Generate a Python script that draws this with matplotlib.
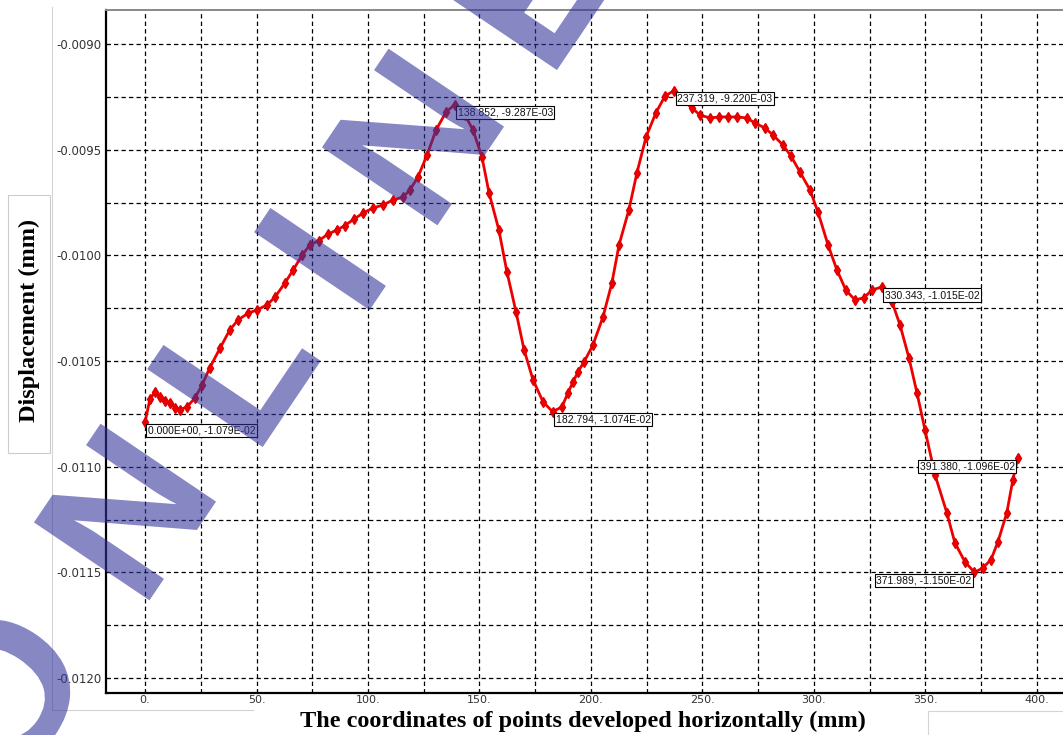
import numpy as np
import matplotlib
matplotlib.use('Agg')
import matplotlib.pyplot as plt
from matplotlib.patches import Rectangle, PathPatch
from matplotlib.lines import Line2D
from matplotlib.ticker import MultipleLocator, FixedLocator
from matplotlib.textpath import TextPath
from matplotlib.font_manager import FontProperties
from matplotlib.transforms import Affine2D, IdentityTransform

# values
x_mm = [0.0, 2.2, 4.5, 6.7, 9.0, 11.2, 13.5, 15.7, 18.8, 22.4, 25.6, 29.0,
        33.6, 38.0, 41.7, 46.2, 50.2, 54.7, 58.3, 62.8, 66.4, 70.4, 74.0,
        78.0, 82.0, 86.0, 89.5, 93.5, 97.8, 102.2, 106.7, 111.2, 115.7,
        118.8, 122.4, 126.5, 130.5, 135.0, 138.852, 143.5, 147.1, 151.1,
        154.3, 158.7, 162.3, 166.4, 170.0, 174.0, 178.5, 182.794, 187.0,
        189.7, 191.9, 194.2, 196.9, 200.9, 205.4, 209.4, 212.6, 217.0,
        220.6, 224.7, 229.1, 233.2, 237.319, 241.2, 245.3, 248.9, 253.4,
        257.4, 261.4, 265.5, 270.0, 273.5, 278.0, 281.6, 286.1, 289.7,
        293.7, 298.2, 301.8, 306.3, 310.3, 314.3, 318.4, 322.4, 326.0,
        330.343, 335.0, 338.6, 342.6, 346.2, 349.8, 354.3, 359.6, 363.2,
        367.7, 371.989, 375.8, 379.4, 382.5, 386.5, 389.2, 391.38]
disp = [-0.01079, -0.01068, -0.010646, -0.01067, -0.01069, -0.010698,
        -0.01072, -0.01073, -0.010717, -0.010675, -0.010613, -0.010533,
        -0.01044, -0.010353, -0.010306, -0.010274, -0.010258, -0.010235,
        -0.010197, -0.01013, -0.01007, -0.01000, -0.00995, -0.00993,
        -0.00990, -0.00988, -0.00986, -0.00983, -0.00980, -0.009776,
        -0.009762, -0.009738, -0.009724, -0.009691, -0.009629, -0.009525,
        -0.009407, -0.009322, -0.009287, -0.009336, -0.009407, -0.009534,
        -0.009705, -0.00988, -0.010078, -0.010268, -0.010447, -0.010589,
        -0.010693, -0.01074, -0.010717, -0.01065, -0.0106, -0.010551,
        -0.010504, -0.010424, -0.010291, -0.01013, -0.00995, -0.009785,
        -0.00961, -0.00944, -0.009326, -0.009246, -0.00922, -0.009265,
        -0.009303, -0.009336, -0.00935, -0.009345, -0.009345, -0.009345,
        -0.00935, -0.009374, -0.009397, -0.00943, -0.009478, -0.00953,
        -0.009605, -0.00969, -0.009795, -0.00995, -0.010069, -0.010164,
        -0.010211, -0.010201, -0.010164, -0.01015, -0.01022, -0.010329,
        -0.010485, -0.01065, -0.010826, -0.011039, -0.011218, -0.01136,
        -0.01145, -0.0115, -0.011479, -0.01144, -0.011356, -0.011218,
        -0.011063, -0.01096]

# labelled points and which side the box sits on
lab_x = [0.0, 138.852, 182.794, 237.319, 330.343, 371.989, 391.38]
lab_y = [-0.01079, -0.009287, -0.01074, -0.00922, -0.01015, -0.0115, -0.01096]
lab_txt = ['0.000E+00, -1.079E-02', '138.852, -9.287E-03',
           '182.794, -1.074E-02', '237.319, -9.220E-03',
           '330.343, -1.015E-02', '371.989, -1.150E-02',
           '391.380, -1.096E-02']
lab_side = ['right', 'right', 'right', 'right', 'right', 'left', 'left']

x_ticks = [0, 50, 100, 150, 200, 250, 300, 350, 400]
x_ticklabels = ['0.', '50.', '100.', '150.', '200.', '250.', '300.', '350.', '400.']
y_ticks = [-0.0120, -0.0115, -0.0110, -0.0105, -0.0100, -0.0095, -0.0090]
y_ticklabels = ['-0.0120', '-0.0115', '-0.0110', '-0.0105', '-0.0100',
                '-0.0095', '-0.0090']

# watermark letters
wm_letters = ['O', 'N', 'L', 'I', 'N', 'E']

W, H = 1063, 735
fig = plt.figure(figsize=(W / 100, H / 100), dpi=100)
ax = fig.add_axes([106 / W, 1 - 693 / H, 1 - 106 / W, (693 - 10) / H])

ax.plot(x_mm, disp, color='#ee0000', lw=2.0, marker='d', ms=5.5,
        mfc='#ee0000', mec='#dd0000', zorder=3)

ax.set_xlim(-17.5, 411.7)
ax.set_ylim(-0.012071, -0.008839)

ax.xaxis.set_major_locator(FixedLocator(x_ticks))
ax.set_xticklabels(x_ticklabels)
ax.xaxis.set_minor_locator(MultipleLocator(25))
ax.yaxis.set_major_locator(FixedLocator(y_ticks))
ax.set_yticklabels(y_ticklabels)
ax.yaxis.set_minor_locator(MultipleLocator(0.00025))

ax.grid(which='both', color='black', lw=0.9, linestyle=(0, (3.5, 2.5)))
ax.set_axisbelow(True)
ax.tick_params(which='both', direction='in', length=3, color='black',
               labelsize=8.5, labelcolor='#333333', pad=3)
ax.tick_params(axis='x', pad=1.5, labelsize=8)

ax.spines['left'].set_linewidth(1.6)
ax.spines['bottom'].set_linewidth(1.6)
ax.spines['top'].set_color('#888888')
ax.spines['top'].set_linewidth(1.4)
ax.spines['right'].set_visible(False)

for xv, yv, t, side in zip(lab_x, lab_y, lab_txt, lab_side):
    if side == 'right':
        off, ha = (3, -3), 'left'
    else:
        off, ha = (-3, -3), 'right'
    ax.annotate(t, (xv, yv), xytext=off, textcoords='offset pixels',
                ha=ha, va='top', fontsize=7.5, family='Liberation Sans',
                color='#111111', zorder=5,
                bbox=dict(boxstyle='square,pad=0.15', fc='white', ec='black', lw=0.8))

# axis titles
fig.text(583 / W, 1 - 721 / H,
         'The coordinates of points developed horizontally (mm)',
         ha='center', va='center', fontsize=17.5, fontweight='bold',
         family='Liberation Serif')
fig.add_artist(Rectangle((8 / W, 1 - 453 / H), 42 / W, 258 / H,
                         transform=fig.transFigure, fc='white',
                         ec='#cccccc', lw=0.8))
fig.text(29 / W, 1 - 320 / H, 'Displacement (mm)', rotation=90,
         ha='center', va='center', fontsize=17.5, fontweight='bold',
         family='Liberation Serif')

# light frame lines left over from the original layout
gray = '#d4d4d4'
fig.add_artist(Line2D([52 / W, 52 / W], [1 - 7 / H, 1 - 710 / H],
                      transform=fig.transFigure, color=gray, lw=0.8))
fig.add_artist(Line2D([52 / W, 253 / W], [1 - 710 / H, 1 - 710 / H],
                      transform=fig.transFigure, color=gray, lw=0.8))
fig.add_artist(Line2D([928 / W, 928 / W, 1.0], [0, 1 - 711 / H, 1 - 711 / H],
                      transform=fig.transFigure, color=gray, lw=0.8))

# watermark, one glyph at a time (pixel centres from the top-left)
wm_centres = [(-3, 693), (125, 512), (234, 365), (320, 259), (413, 137), (531, -16)]
fp = FontProperties(family='Liberation Sans', weight='bold')
em = 145 / 0.716
for ch, (cx, cy) in zip(wm_letters, wm_centres):
    tp = TextPath((0, 0), ch, size=em, prop=fp)
    ext = tp.get_extents()
    mx, my = (ext.x0 + ext.x1) / 2, (ext.y0 + ext.y1) / 2
    tr = Affine2D().translate(-mx, -my).rotate_deg(56).translate(cx, H - cy)
    fig.add_artist(PathPatch(tr.transform_path(tp), fc=(0.2, 0.2, 0.61),
                             ec='none', alpha=0.59, zorder=10,
                             transform=IdentityTransform()))

fig.savefig('out.png', dpi=100)
